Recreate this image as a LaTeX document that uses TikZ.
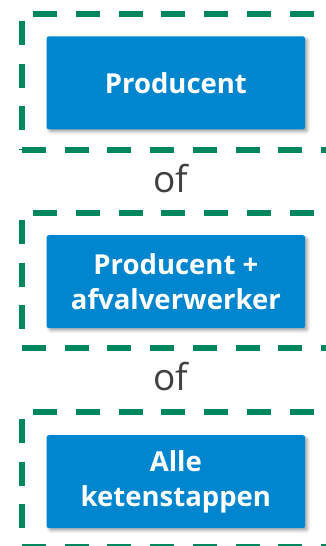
\documentclass[tikz,border=0pt]{standalone}
\usepackage{fontspec}
\setmainfont{Open Sans}
\usetikzlibrary{shadows.blur}
\definecolor{boxblue}{RGB}{0,134,206}
\definecolor{framegreen}{RGB}{0,135,94}
\definecolor{ofgray}{RGB}{64,64,64}
\begin{document}
\begin{tikzpicture}[x=1pt,y=1pt,
  stagebox/.style={fill=boxblue, rounded corners=2pt, minimum width=258.3pt,
    minimum height=92.8pt, inner sep=0pt, text=white, align=center,
    font=\fontsize{27.5}{35}\selectfont\bfseries,
    blur shadow={shadow xshift=2.5pt, shadow yshift=-2.5pt,
      shadow blur radius=3pt, shadow opacity=35}},
  frameline/.style={draw=framegreen, line width=5.5pt},
  ortext/.style={text=ofgray, font=\fontsize{37}{42}\selectfont,
    anchor=base, inner sep=0pt}
]
\clip (0,0) rectangle (326,546);

% dashed green frames, open to the right
\foreach \top/\bot in {532/396, 333/198, 134/-1}{
  \draw[frameline, dash pattern=on 24pt off 18.7pt, dash phase=31.4pt]
    (22,\top) -- (345,\top);
  \draw[frameline, dash pattern=on 24pt off 18.7pt, dash phase=35.7pt]
    (22,\top) -- (22,\bot);
  \draw[frameline, dash pattern=on 24pt off 18.7pt]
    (22,\bot) -- (345,\bot);
}

% the three stages
\node[stagebox] (prod) at (175.85,463.1) {Producent};
\node[stagebox] (verw) at (175.85,264.35) {Producent +\\afvalverwerker};
\node[stagebox] (alle) at (175.85,64.35) {Alle\\ketenstappen};

% separators between the stages
\node[ortext] (of1) at (170.5,353.3) {of};
\node[ortext] (of2) at (170.5,155.5) {of};
\end{tikzpicture}
\end{document}
